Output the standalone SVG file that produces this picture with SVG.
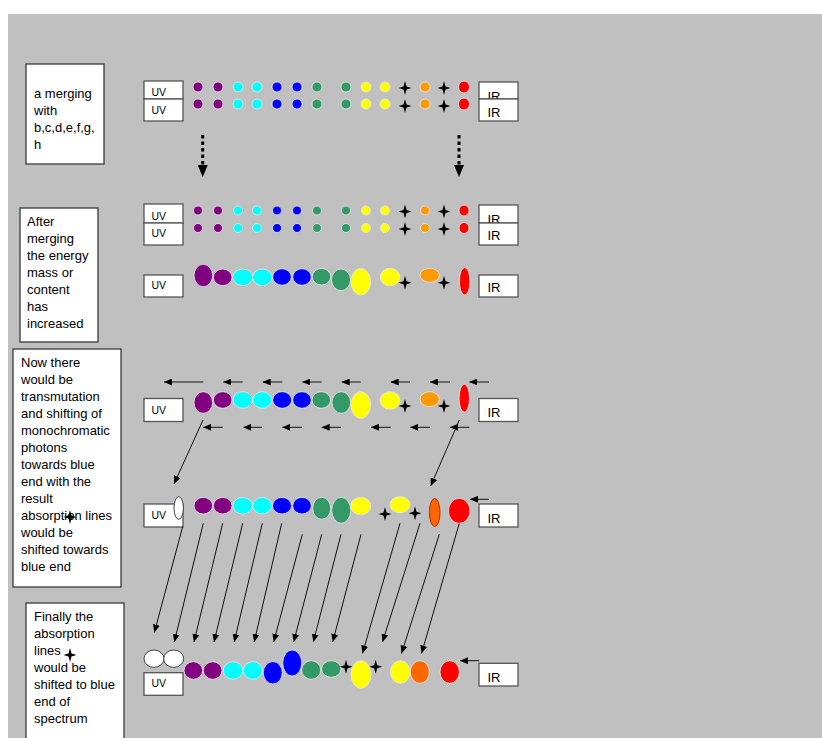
<svg xmlns="http://www.w3.org/2000/svg" width="822" height="738" viewBox="0 0 822 738">
<style>
.tb{fill:#fff;stroke:#3a3a3a;stroke-width:1.3}
.bx{fill:#fff;stroke:#555;stroke-width:1.3}
.t{font-family:"Liberation Sans",Arial,sans-serif;font-size:13px;fill:#000}
.uv{font-family:"Liberation Sans",Arial,sans-serif;font-size:10.5px;fill:#000}
.ir{font-family:"Liberation Sans",Arial,sans-serif;font-size:13px;fill:#000}
.pu{fill:#800080;stroke:#e8e8e8;stroke-width:0.8}
.cy{fill:#00FFFF;stroke:#e8e8e8;stroke-width:0.8}
.bl{fill:#0000FF;stroke:#e8e8e8;stroke-width:0.8}
.gr{fill:#339966;stroke:#e8e8e8;stroke-width:0.8}
.ye{fill:#FFFF00;stroke:#e8e8e8;stroke-width:0.8}
.or{fill:#FF9900;stroke:#e8e8e8;stroke-width:0.8}
.rd{fill:#FF0000;stroke:#e8e8e8;stroke-width:0.8}
.oo{fill:#FF6600;stroke:#e8e8e8;stroke-width:0.8}
.or2{fill:#FF6600;stroke:#CC2200;stroke-width:1}
.wh{fill:#fff;stroke:#444;stroke-width:1}
.ln{stroke:#111;stroke-width:1;fill:none;marker-end:url(#ah)}
.dt{stroke:#000;stroke-width:3;stroke-dasharray:3.5,3;fill:none}
</style>
<defs>
<marker id="ah" markerUnits="userSpaceOnUse" markerWidth="8" markerHeight="7" refX="8" refY="3.5" orient="auto">
<path d="M0,0 L8,3.5 L0,7 Z" fill="#000"/>
</marker>
<path id="star" d="M0,-7 L1.5,-1.5 L6.5,0 L1.5,1.5 L0,7 L-1.5,1.5 L-6.5,0 L-1.5,-1.5 Z" fill="#000"/>
</defs>
<rect x="0" y="0" width="822" height="738" fill="#fff"/>
<rect x="8" y="14" width="814" height="724" fill="#C0C0C0"/>

<g id="note1">
<rect class="tb" x="26" y="64" width="78" height="100"/>
<text class="t" x="34" y="98">a merging</text>
<text class="t" x="34" y="115">with</text>
<text class="t" x="34" y="132">b,c,d,e,f,g,</text>
<text class="t" x="34" y="149">h</text>
</g>

<g id="note2">
<rect class="tb" x="20" y="208" width="78" height="134"/>
<text class="t" x="27" y="226">After</text>
<text class="t" x="27" y="243">merging</text>
<text class="t" x="27" y="260">the energy</text>
<text class="t" x="27" y="277">mass or</text>
<text class="t" x="27" y="294">content</text>
<text class="t" x="27" y="311">has</text>
<text class="t" x="27" y="328">increased</text>
</g>

<g id="note3">
<rect class="tb" x="13" y="349" width="108" height="238"/>
<text class="t" x="21" y="367">Now there</text>
<text class="t" x="21" y="384">would be</text>
<text class="t" x="21" y="401">transmutation</text>
<text class="t" x="21" y="418">and shifting of</text>
<text class="t" x="21" y="435">monochromatic</text>
<text class="t" x="21" y="452">photons</text>
<text class="t" x="21" y="469">towards blue</text>
<text class="t" x="21" y="486">end with the</text>
<text class="t" x="21" y="503">result</text>
<text class="t" x="21" y="520">absorption lines</text>
<text class="t" x="21" y="537">would be</text>
<text class="t" x="21" y="554">shifted towards</text>
<text class="t" x="21" y="571">blue end</text>
<use href="#star" x="70" y="517"/>
</g>

<g id="note4">
<rect class="tb" x="26" y="603" width="98" height="140"/>
<text class="t" x="34" y="621">Finally the</text>
<text class="t" x="34" y="638">absorption</text>
<text class="t" x="34" y="655">lines</text>
<text class="t" x="34" y="672">would be</text>
<text class="t" x="34" y="689">shifted to blue</text>
<text class="t" x="34" y="706">end of</text>
<text class="t" x="34" y="723">spectrum</text>
<use href="#star" x="70" y="655"/>
</g>

<g id="row1">
<rect class="bx" x="144" y="81" width="39" height="18"/>
<text class="uv" x="151.5" y="96">UV</text>
<rect class="bx" x="144" y="99" width="39" height="22"/>
<text class="uv" x="151.5" y="113.5">UV</text>
<rect class="bx" x="479" y="82" width="39" height="17"/>
<text class="ir" x="487.5" y="101">IR</text>
<rect class="bx" x="479" y="99" width="39" height="22"/>
<text class="ir" x="487.5" y="116.5">IR</text>
<g>
<circle class="pu" cx="198" cy="87" r="5"/><circle class="pu" cx="218" cy="87" r="5"/>
<circle class="cy" cx="238" cy="87" r="5"/><circle class="cy" cx="257" cy="87" r="5"/>
<circle class="bl" cx="277" cy="87" r="5"/><circle class="bl" cx="297" cy="87" r="5"/>
<circle class="gr" cx="317" cy="87" r="5"/><circle class="gr" cx="346" cy="87" r="5"/>
<circle class="ye" cx="366" cy="87" r="5"/><circle class="ye" cx="385" cy="87" r="5"/>
<use href="#star" x="405" y="88"/>
<circle class="or" cx="425" cy="87" r="5"/>
<use href="#star" x="444" y="88"/>
<ellipse class="rd" cx="464" cy="87" rx="5.5" ry="6"/>
</g>
<g>
<circle class="pu" cx="198" cy="104" r="5"/><circle class="pu" cx="218" cy="104" r="5"/>
<circle class="cy" cx="238" cy="104" r="5"/><circle class="cy" cx="257" cy="104" r="5"/>
<circle class="bl" cx="277" cy="104" r="5"/><circle class="bl" cx="297" cy="104" r="5"/>
<circle class="gr" cx="317" cy="104" r="5"/><circle class="gr" cx="346" cy="104" r="5"/>
<circle class="ye" cx="366" cy="104" r="5"/><circle class="ye" cx="385" cy="104" r="5"/>
<use href="#star" x="405" y="106"/>
<circle class="or" cx="425" cy="104" r="5"/>
<use href="#star" x="444" y="106"/>
<ellipse class="rd" cx="464" cy="104" rx="5.5" ry="6"/>
</g>
</g>

<g id="row2">
<rect class="bx" x="144" y="204" width="39" height="19"/>
<text class="uv" x="151.5" y="219.5">UV</text>
<rect class="bx" x="144" y="223" width="39" height="22"/>
<text class="uv" x="151.5" y="236.5">UV</text>
<rect class="bx" x="479" y="205" width="39" height="18"/>
<text class="ir" x="487.5" y="224">IR</text>
<rect class="bx" x="479" y="223" width="39" height="22"/>
<text class="ir" x="487.5" y="240">IR</text>
<g>
<circle class="pu" cx="198" cy="210.5" r="4.5"/><circle class="pu" cx="218" cy="210.5" r="4.5"/>
<circle class="cy" cx="238" cy="210.5" r="4.5"/><circle class="cy" cx="257" cy="210.5" r="4.5"/>
<circle class="bl" cx="277" cy="210.5" r="4.5"/><circle class="bl" cx="297" cy="210.5" r="4.5"/>
<circle class="gr" cx="317" cy="210.5" r="4.5"/><circle class="gr" cx="346" cy="210.5" r="4.5"/>
<circle class="ye" cx="366" cy="210.5" r="4.5"/><circle class="ye" cx="385" cy="210.5" r="4.5"/>
<use href="#star" x="405" y="211.5"/>
<circle class="or" cx="425" cy="210.5" r="4.5"/>
<use href="#star" x="444" y="211.5"/>
<ellipse class="rd" cx="464" cy="210.5" rx="5" ry="5.5"/>
</g>
<g>
<circle class="pu" cx="198" cy="228" r="4.5"/><circle class="pu" cx="218" cy="228" r="4.5"/>
<circle class="cy" cx="238" cy="228" r="4.5"/><circle class="cy" cx="257" cy="228" r="4.5"/>
<circle class="bl" cx="277" cy="228" r="4.5"/><circle class="bl" cx="297" cy="228" r="4.5"/>
<circle class="gr" cx="317" cy="228" r="4.5"/><circle class="gr" cx="346" cy="228" r="4.5"/>
<circle class="ye" cx="366" cy="228" r="4.5"/><circle class="ye" cx="385" cy="228" r="4.5"/>
<use href="#star" x="405" y="229"/>
<circle class="or" cx="425" cy="228" r="4.5"/>
<use href="#star" x="444" y="229"/>
<ellipse class="rd" cx="464" cy="228" rx="5" ry="5.5"/>
</g>
</g>

<g id="row3">
<rect class="bx" x="144" y="275" width="39" height="22"/>
<text class="uv" x="151.5" y="289">UV</text>
<rect class="bx" x="479" y="275" width="39" height="22"/>
<text class="ir" x="487.5" y="291.5">IR</text>
<ellipse class="pu" cx="203.3" cy="275.5" rx="9.3" ry="11.2"/>
<ellipse class="pu" cx="222.7" cy="277.3" rx="9.3" ry="8.3"/>
<ellipse class="cy" cx="242.7" cy="277.3" rx="10" ry="8.3"/>
<ellipse class="cy" cx="262.3" cy="277.3" rx="9.7" ry="8.3"/>
<ellipse class="bl" cx="282" cy="277" rx="9.3" ry="8.3"/>
<ellipse class="bl" cx="302" cy="277" rx="9.3" ry="8.3"/>
<ellipse class="gr" cx="321.5" cy="276.7" rx="9.2" ry="8.3"/>
<ellipse class="gr" cx="341" cy="279.8" rx="9.5" ry="10.8"/>
<ellipse class="ye" cx="360.8" cy="281.7" rx="9.8" ry="13.3"/>
<ellipse class="ye" cx="390" cy="277" rx="9.8" ry="8.7"/>
<use href="#star" x="405" y="282.7"/>
<ellipse class="or" cx="429.7" cy="275.3" rx="9.7" ry="7"/>
<use href="#star" x="444" y="282.7"/>
<ellipse class="rd" cx="464.7" cy="281.3" rx="5.3" ry="13.7"/>
</g>

<g id="row4">
<rect class="bx" x="144" y="398.5" width="39" height="23"/>
<text class="uv" x="151.5" y="413.5">UV</text>
<rect class="bx" x="479" y="398.5" width="39" height="23"/>
<text class="ir" x="487.5" y="416.5">IR</text>
<ellipse class="pu" cx="203.3" cy="402.5" rx="9.3" ry="10.8"/>
<ellipse class="pu" cx="222.7" cy="400" rx="9.3" ry="8.3"/>
<ellipse class="cy" cx="242.7" cy="400" rx="9.7" ry="8.3"/>
<ellipse class="cy" cx="262.2" cy="400" rx="9.5" ry="8.3"/>
<ellipse class="bl" cx="282.2" cy="400" rx="9.5" ry="8.3"/>
<ellipse class="bl" cx="302" cy="400" rx="9.3" ry="8.3"/>
<ellipse class="gr" cx="321.3" cy="400" rx="9.3" ry="8.3"/>
<ellipse class="gr" cx="341.3" cy="402.5" rx="9.3" ry="10.8"/>
<ellipse class="ye" cx="360.8" cy="405" rx="9.8" ry="13.3"/>
<ellipse class="ye" cx="390" cy="400.5" rx="10" ry="8.8"/>
<use href="#star" x="405" y="406"/>
<ellipse class="or" cx="429.7" cy="399.2" rx="9.7" ry="7.5"/>
<use href="#star" x="444" y="406"/>
<ellipse class="rd" cx="464.3" cy="398.2" rx="5.2" ry="14"/>
</g>

<g id="row5">
<rect class="bx" x="144" y="504" width="39" height="23"/>
<text class="uv" x="151.5" y="519">UV</text>
<ellipse class="wh" cx="178.7" cy="508" rx="4.7" ry="11.3"/>
<rect class="bx" x="479" y="504" width="39" height="23"/>
<text class="ir" x="487.5" y="522.5">IR</text>
<ellipse class="pu" cx="203.3" cy="505.7" rx="9.3" ry="8.3"/>
<ellipse class="pu" cx="222.7" cy="505.7" rx="9.3" ry="8.3"/>
<ellipse class="cy" cx="242.7" cy="505.7" rx="9.7" ry="8.3"/>
<ellipse class="cy" cx="262.2" cy="505.7" rx="9.5" ry="8.3"/>
<ellipse class="bl" cx="282" cy="505.7" rx="9.5" ry="8.3"/>
<ellipse class="bl" cx="302" cy="505.7" rx="9.3" ry="8.3"/>
<ellipse class="gr" cx="321.7" cy="508.3" rx="9" ry="11"/>
<ellipse class="gr" cx="341.2" cy="510.3" rx="9.5" ry="13"/>
<ellipse class="ye" cx="360.7" cy="506" rx="10" ry="8.7"/>
<use href="#star" x="385" y="514"/>
<ellipse class="ye" cx="400" cy="504.7" rx="10" ry="8"/>
<use href="#star" x="415" y="513.3"/>
<ellipse class="or2" cx="434.7" cy="512.5" rx="5.3" ry="14"/>
<ellipse class="rd" cx="459.2" cy="510.8" rx="10.8" ry="12.5"/>
</g>

<g id="row6">
<ellipse class="wh" cx="154" cy="658.7" rx="10" ry="8.7"/>
<ellipse class="wh" cx="173.7" cy="658.7" rx="10" ry="8.7"/>
<rect class="bx" x="144" y="672.7" width="39" height="22.6"/>
<text class="uv" x="151.5" y="687">UV</text>
<rect class="bx" x="479" y="663.3" width="39" height="22.7"/>
<text class="ir" x="487.5" y="681.5">IR</text>
<ellipse class="pu" cx="193.3" cy="670.5" rx="9.3" ry="8.8"/>
<ellipse class="pu" cx="212.7" cy="670.5" rx="9.3" ry="8.8"/>
<ellipse class="cy" cx="233" cy="670.5" rx="9.7" ry="8.8"/>
<ellipse class="cy" cx="252.8" cy="670.5" rx="9.5" ry="8.8"/>
<ellipse class="bl" cx="272.8" cy="672.8" rx="9.5" ry="11.2"/>
<ellipse class="bl" cx="292.2" cy="663" rx="9.5" ry="13"/>
<ellipse class="gr" cx="311.2" cy="670" rx="9.5" ry="9.3"/>
<ellipse class="gr" cx="331.3" cy="669" rx="9.7" ry="8.3"/>
<use href="#star" x="346" y="666.7"/>
<ellipse class="ye" cx="361" cy="674.5" rx="10" ry="13.8"/>
<use href="#star" x="375.7" y="666.7"/>
<ellipse class="ye" cx="400.2" cy="672" rx="9.8" ry="11.3"/>
<ellipse class="oo" cx="419.8" cy="672" rx="9.5" ry="11.3"/>
<ellipse class="rd" cx="449.7" cy="672" rx="9.7" ry="11.3"/>
</g>

<g id="connectors">
<line class="dt" x1="202.7" y1="135" x2="202.7" y2="166"/>
<path d="M197.7,165 L207.7,165 L202.7,177 Z" fill="#000"/>
<line class="dt" x1="459" y1="135" x2="459" y2="166"/>
<path d="M454,165 L464,165 L459,177 Z" fill="#000"/>

<line class="ln" x1="203.3" y1="382" x2="164" y2="382"/>
<line class="ln" x1="242.7" y1="382" x2="223.3" y2="382"/>
<line class="ln" x1="282.3" y1="382" x2="262.7" y2="382"/>
<line class="ln" x1="321.7" y1="382" x2="302.3" y2="382"/>
<line class="ln" x1="360.7" y1="382" x2="341.7" y2="382"/>
<line class="ln" x1="410" y1="382" x2="390.7" y2="382"/>
<line class="ln" x1="450" y1="382" x2="430" y2="382"/>
<line class="ln" x1="489" y1="382" x2="469.3" y2="382"/>

<line class="ln" x1="222.7" y1="427.3" x2="203.3" y2="427.3"/>
<line class="ln" x1="262" y1="427.3" x2="243.3" y2="427.3"/>
<line class="ln" x1="302" y1="427.3" x2="282.3" y2="427.3"/>
<line class="ln" x1="341" y1="427.3" x2="321.7" y2="427.3"/>
<line class="ln" x1="390.7" y1="427.3" x2="371" y2="427.3"/>
<line class="ln" x1="430" y1="427.3" x2="410.3" y2="427.3"/>
<line class="ln" x1="469.3" y1="427.3" x2="450" y2="427.3"/>

<line class="ln" x1="203" y1="420" x2="174" y2="484"/>
<line class="ln" x1="459.3" y1="420" x2="430.7" y2="486"/>

<line class="ln" x1="489" y1="499.3" x2="470" y2="499.3"/>

<line class="ln" x1="182.7" y1="526.7" x2="154.3" y2="632.5"/>
<line class="ln" x1="203.3" y1="523.3" x2="174.3" y2="642"/>
<line class="ln" x1="222.7" y1="523.3" x2="194" y2="642"/>
<line class="ln" x1="242.7" y1="523.3" x2="214" y2="642"/>
<line class="ln" x1="262.3" y1="523.3" x2="234.2" y2="642"/>
<line class="ln" x1="281.7" y1="523.3" x2="254.2" y2="642"/>
<line class="ln" x1="302.3" y1="534.3" x2="273.7" y2="642"/>
<line class="ln" x1="321.7" y1="534.3" x2="293.7" y2="642"/>
<line class="ln" x1="341" y1="534.3" x2="313.3" y2="642"/>
<line class="ln" x1="361" y1="534.3" x2="332.7" y2="642"/>
<line class="ln" x1="400" y1="523.3" x2="362.5" y2="653.5"/>
<line class="ln" x1="420" y1="523.3" x2="382.5" y2="642"/>
<line class="ln" x1="439.3" y1="534.3" x2="401.5" y2="653.5"/>
<line class="ln" x1="459.3" y1="523.3" x2="421.5" y2="653.5"/>

<line class="ln" x1="479.3" y1="660.7" x2="460" y2="660.7"/>
</g>
</svg>
